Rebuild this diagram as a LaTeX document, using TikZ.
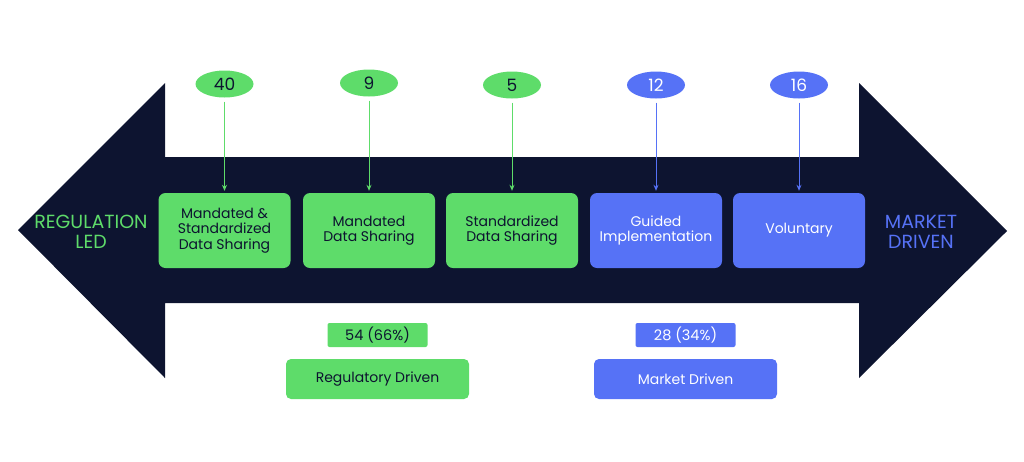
\documentclass[tikz,border=0pt]{standalone}
\usepackage{fontspec}
\setmainfont{Poppins}
\usetikzlibrary{arrows.meta,shapes.geometric}
\definecolor{N}{RGB}{13, 20, 48}
\definecolor{G}{RGB}{94, 220, 106}
\definecolor{B}{RGB}{86, 114, 246}

\tikzset{
  gbox/.style={fill=G, rounded corners=7pt, minimum width=132pt, minimum height=75pt,
    align=center, text=N, font=\fontsize{14}{15.5}\selectfont},
  bbox/.style={gbox, fill=B, text=white},
  gnum/.style={ellipse, fill=G, minimum width=58pt, minimum height=27pt, inner sep=0pt,
    text=N, font=\fontsize{17}{18}\selectfont},
  bnum/.style={gnum, fill=B, text=white},
  gline/.style={G, line width=1pt, shorten <=4pt, shorten >=2pt, -{Stealth[length=6pt,width=5pt]}},
  bline/.style={gline, B},
  gpct/.style={fill=G, rounded corners=2pt, minimum width=100pt, minimum height=24pt,
    inner sep=0pt, text=N, font=\fontsize{14.5}{15}\selectfont},
  bpct/.style={gpct, fill=B, text=white},
  gdrv/.style={gpct, rounded corners=5pt, minimum width=183pt, minimum height=40pt,
    font=\fontsize{14}{15}\selectfont},
  bdrv/.style={gdrv, fill=B, text=white},
}

\begin{document}
\begin{tikzpicture}[x=1pt, y=-1pt]
  \useasboundingbox (0,0) rectangle (1024,461);
  % double arrow
  \fill[N] (18,230) -- (165,83) -- (165,157) -- (859,157) -- (859,83) -- (1007,231)
    -- (859,378) -- (859,303) -- (165,303) -- (165,378) -- cycle;

  % ends
  \node[text=G, align=center, font=\fontsize{19}{20}\selectfont] (reg) at (91,232) {REGULATION\\LED};
  \node[text=B, align=center, font=\fontsize{19}{20}\selectfont] (mkt) at (921,232) {MARKET\\DRIVEN};

  % categories
  \node[gbox] (mands) at (224.5,230.5) {Mandated \&\\Standardized\\Data Sharing};
  \node[gbox] (mand)  at (369,230.5) {Mandated\\Data Sharing};
  \node[gbox] (stand) at (512,230.5) {Standardized\\Data Sharing};
  \node[bbox] (guid)  at (656,230.5) {Guided\\Implementation};
  \node[bbox] (vol)   at (799,230.5) {Voluntary};

  % counts
  \node[gnum] (n40) at (224.5,84) {40};
  \node[gnum] (n9)  at (369,83) {9};
  \node[gnum] (n5)  at (512,85) {5};
  \node[bnum] (n12) at (656,85) {12};
  \node[bnum] (n16) at (799,85) {16};

  \draw[gline] (n40) -- (mands);
  \draw[gline] (n9) -- (mand);
  \draw[gline] (n5) -- (stand);
  \draw[bline] (n12) -- (guid);
  \draw[bline] (n16) -- (vol);

  % totals
  \node[gpct] (pctg) at (377.5,335) {54 (66\%)};
  \node[gdrv] (regd) at (377.5,379) {Regulatory Driven};
  \node[bpct] (pctb) at (685.5,335) {28 (34\%)};
  \node[bdrv] (mktd) at (685.5,379) {Market Driven};
\end{tikzpicture}
\end{document}
